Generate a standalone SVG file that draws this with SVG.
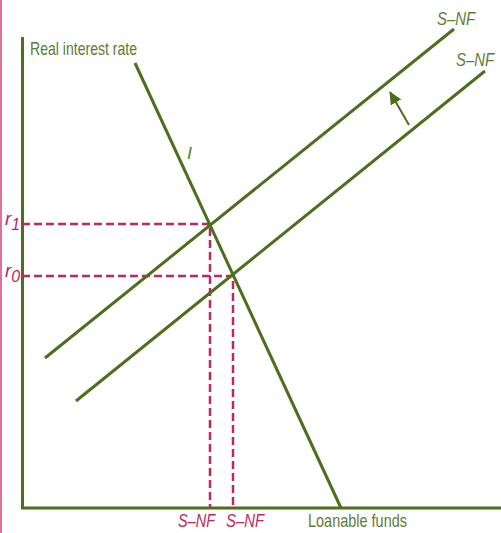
<svg xmlns="http://www.w3.org/2000/svg" width="501" height="533" viewBox="0 0 501 533">
<style>
.axis{stroke:#4e6e1e;stroke-width:3;fill:none}
.curve{stroke:#4e6e1e;stroke-width:3;fill:none}
.dash{stroke:#c2255f;stroke-width:2.5;stroke-dasharray:8 4;fill:none}
.lbl{font-family:"Liberation Sans",Arial,sans-serif;fill:#5d7d35}
.pk{font-family:"Liberation Sans",Arial,sans-serif;fill:#c2255f;font-style:italic}
.it{font-style:italic}
</style>
<defs>
<marker id="ah" markerWidth="13" markerHeight="12" refX="12" refY="6" orient="auto" markerUnits="userSpaceOnUse" viewBox="0 0 13 12">
<path d="M0,0 L13,6 L0,12 z" fill="#4e6e1e"/>
</marker>
</defs>
<rect x="0" y="0" width="501" height="533" fill="#ffffff"/>
<line x1="1" y1="0" x2="1" y2="533" stroke="#d0457f" stroke-width="1.5"/>
<g id="axes">
<line class="axis" x1="22.5" y1="37" x2="22.5" y2="508"/>
<line class="axis" x1="21" y1="508" x2="501" y2="508"/>
<text class="lbl" x="30" y="55" font-size="19" textLength="107" lengthAdjust="spacingAndGlyphs">Real interest rate</text>
<text class="lbl" x="308" y="527" font-size="19" textLength="99" lengthAdjust="spacingAndGlyphs">Loanable funds</text>
</g>
<g id="connectors">
<polyline class="dash" points="22,224 210,224 210,508"/>
<polyline class="dash" points="22,276 233,276 233,508"/>
<line x1="409" y1="125" x2="390" y2="92" stroke="#4e6e1e" stroke-width="2" marker-end="url(#ah)"/>
</g>
<g id="I-curve">
<line class="curve" x1="135" y1="63" x2="341" y2="508"/>
<text class="lbl it" x="187" y="159" font-size="17" textLength="5" lengthAdjust="spacingAndGlyphs">I</text>
</g>
<g id="S-NF-1">
<line class="curve" x1="45" y1="358" x2="454" y2="29"/>
<text class="lbl it" x="437" y="25" font-size="18" textLength="38" lengthAdjust="spacingAndGlyphs">S–NF</text>
</g>
<g id="S-NF-0">
<line class="curve" x1="76" y1="401" x2="485" y2="71"/>
<text class="lbl it" x="456" y="66" font-size="18" textLength="38" lengthAdjust="spacingAndGlyphs">S–NF</text>
</g>
<g id="r-labels">
<text class="pk" x="5" y="225" font-size="19">r<tspan font-size="16" dy="5">1</tspan></text>
<text class="pk" x="5" y="277" font-size="19">r<tspan font-size="16" dy="5">0</tspan></text>
<text class="pk" x="178" y="527" font-size="19" textLength="37" lengthAdjust="spacingAndGlyphs">S–NF</text>
<text class="pk" x="226" y="527" font-size="19" textLength="38" lengthAdjust="spacingAndGlyphs">S–NF</text>
</g>
</svg>
